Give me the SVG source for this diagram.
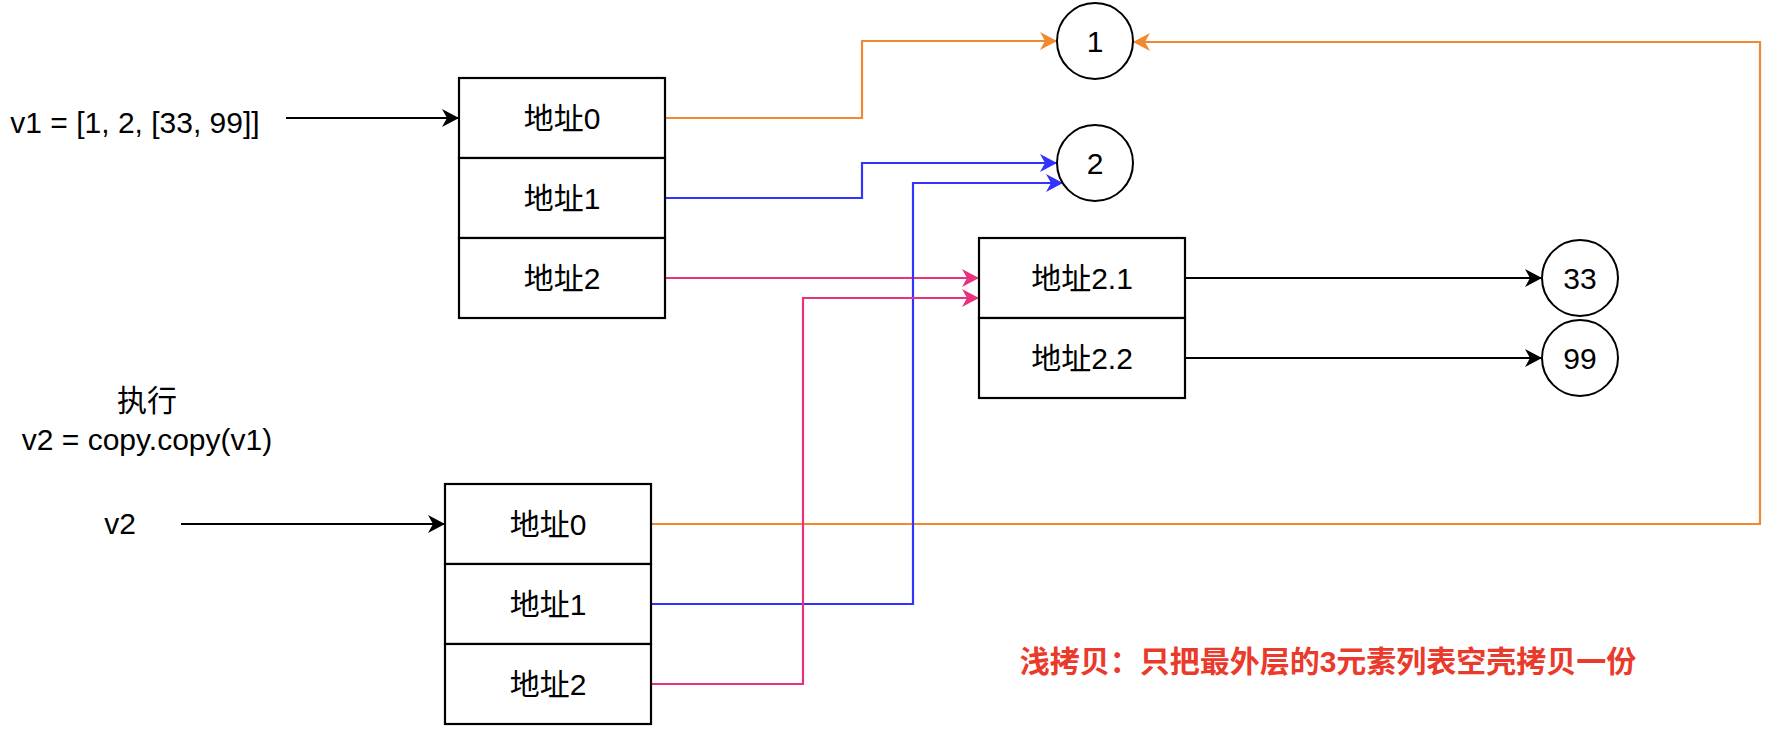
<svg xmlns="http://www.w3.org/2000/svg" width="1778" height="736" viewBox="0 0 1778 736">
<style>
text{font-family:"Liberation Sans","Noto Sans CJK SC",sans-serif;font-size:30px;fill:#000;text-anchor:middle}
.cell{fill:#fff;stroke:#000;stroke-width:2.2}
.circ{fill:#fff;stroke:#000;stroke-width:2}
.e{fill:none;stroke-width:2.2}
.k{stroke:#000}
.o{stroke:#F0892F}
.b{stroke:#3333FF}
.p{stroke:#E8327C}
.note{fill:#EA3A2B;font-weight:bold}
</style>
<defs>
<marker id="ak" markerUnits="userSpaceOnUse" markerWidth="18" markerHeight="18" refX="17" refY="9" orient="auto"><path d="M0,0 L17,9 L0,18 L5,9 Z" fill="#000"/></marker>
<marker id="ao" markerUnits="userSpaceOnUse" markerWidth="18" markerHeight="18" refX="17" refY="9" orient="auto"><path d="M0,0 L17,9 L0,18 L5,9 Z" fill="#F0892F"/></marker>
<marker id="ab" markerUnits="userSpaceOnUse" markerWidth="18" markerHeight="18" refX="17" refY="9" orient="auto"><path d="M0,0 L17,9 L0,18 L5,9 Z" fill="#3333FF"/></marker>
<marker id="ap" markerUnits="userSpaceOnUse" markerWidth="18" markerHeight="18" refX="17" refY="9" orient="auto"><path d="M0,0 L17,9 L0,18 L5,9 Z" fill="#E8327C"/></marker>
</defs>
<rect width="1778" height="736" fill="#fff"/>
<g id="connectors">
<path class="e k" d="M286,118 H459" marker-end="url(#ak)"/>
<path class="e k" d="M181,524 H445" marker-end="url(#ak)"/>
<path class="e o" d="M665,118 H862 V41 H1057" marker-end="url(#ao)"/>
<path class="e b" d="M665,198 H862 V163 H1057" marker-end="url(#ab)"/>
<path class="e p" d="M665,278 H979" marker-end="url(#ap)"/>
<path class="e o" d="M651,524 H1760 V42 H1133" marker-end="url(#ao)"/>
<path class="e b" d="M651,604 H913 V183 H1063" marker-end="url(#ab)"/>
<path class="e p" d="M651,684 H803 V298 H979" marker-end="url(#ap)"/>
<path class="e k" d="M1185,278 H1542" marker-end="url(#ak)"/>
<path class="e k" d="M1185,358 H1542" marker-end="url(#ak)"/>
</g>
<g id="label-v1"><text x="135" y="133">v1 = [1, 2, [33, 99]]</text></g>
<g id="label-exec"><text x="147" y="411">执行</text><text x="147" y="450">v2 = copy.copy(v1)</text></g>
<g id="label-v2"><text x="120" y="534">v2</text></g>
<g id="list-v1">
<rect class="cell" x="459" y="78" width="206" height="80"/><text x="562" y="129">地址0</text>
<rect class="cell" x="459" y="158" width="206" height="80"/><text x="562" y="209">地址1</text>
<rect class="cell" x="459" y="238" width="206" height="80"/><text x="562" y="289">地址2</text>
</g>
<g id="list-v2">
<rect class="cell" x="445" y="484" width="206" height="80"/><text x="548" y="535">地址0</text>
<rect class="cell" x="445" y="564" width="206" height="80"/><text x="548" y="615">地址1</text>
<rect class="cell" x="445" y="644" width="206" height="80"/><text x="548" y="695">地址2</text>
</g>
<g id="list-inner">
<rect class="cell" x="979" y="238" width="206" height="80"/><text x="1082" y="289">地址2.1</text>
<rect class="cell" x="979" y="318" width="206" height="80"/><text x="1082" y="369">地址2.2</text>
</g>
<g id="val-1"><circle class="circ" cx="1095" cy="41" r="38"/><text x="1095" y="52">1</text></g>
<g id="val-2"><circle class="circ" cx="1095" cy="163" r="38"/><text x="1095" y="174">2</text></g>
<g id="val-33"><circle class="circ" cx="1580" cy="278" r="38"/><text x="1580" y="289">33</text></g>
<g id="val-99"><circle class="circ" cx="1580" cy="358" r="38"/><text x="1580" y="369">99</text></g>
<g id="note"><text class="note" x="1328" y="672">浅拷贝：只把最外层的3元素列表空壳拷贝一份</text></g>
</svg>
